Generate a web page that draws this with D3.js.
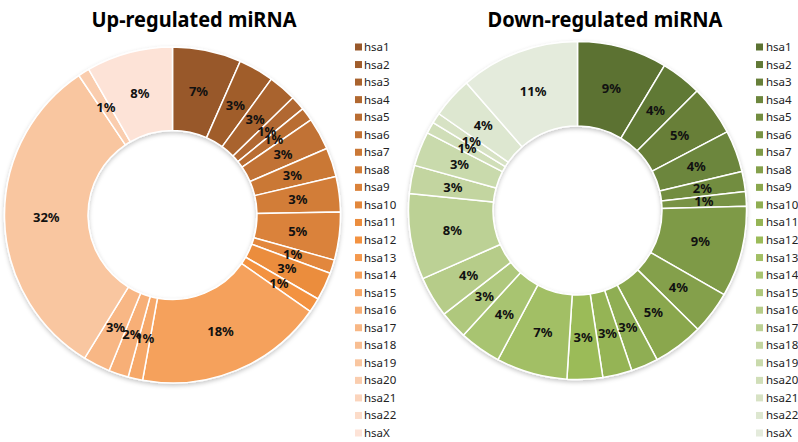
<!DOCTYPE html>
<html>
<head>
<meta charset="utf-8">
<script src="https://cdn.jsdelivr.net/npm/d3@7/dist/d3.min.js"></script>
<style>
  html, body { margin: 0; padding: 0; background: #fff; }
  svg { display: block; }
</style>
</head>
<body>
<svg id="chart" width="798" height="442"></svg>
<script>
// ---------- DATA ----------
const categories = ["hsa1","hsa2","hsa3","hsa4","hsa5","hsa6","hsa7","hsa8","hsa9","hsa10","hsa11","hsa12",
  "hsa13","hsa14","hsa15","hsa16","hsa17","hsa18","hsa19","hsa20","hsa21","hsa22","hsaX"];
// Up-regulated (percent shares; zero-share categories draw no slice)
const upValues = [6.6, 3.4, 2.7, 1.4, 1.3, 3.1, 2.8, 3.4, 4.6, 1.3, 2.7, 1.4,
  0, 18.1, 1.4, 1.9, 2.6, 0, 31.8, 1.1, 0, 0, 8.3];
// Down-regulated
const downValues = [8.6, 3.9, 4.8, 4.0, 1.9, 1.4, 8.7, 4.1, 4.8, 2.6, 2.8, 3.4,
  6.8, 4.0, 2.7, 3.9, 8.2, 2.7, 3.3, 1.1, 1.0, 3.9, 11.4];
const titles = ["Up-regulated miRNA", "Down-regulated miRNA"];

// ---------- STYLE / LAYOUT ----------
const svg = d3.select("#chart");
const defs = svg.append("defs");
const f = defs.append("filter").attr("id","shadow").attr("x","-10%").attr("y","-10%").attr("width","120%").attr("height","125%");
f.append("feDropShadow").attr("dx",0).attr("dy",2).attr("stdDeviation",2.2)
  .attr("flood-color","#000").attr("flood-opacity",0.22);

function ramp(c0, c1, c2) {
  const a = d3.interpolateRgb(c0, c1), b = d3.interpolateRgb(c1, c2);
  return i => i <= 11 ? a(i / 11) : b((i - 11) / 11);
}
const upColor = ramp("#98582a", "#f39240", "#fde3d7");
const downColor = ramp("#5b7232", "#9bbb59", "#e4ebdc");

const panels = [
  { values: upValues, color: upColor, cx: 172.5, cy: 215, rOut: 168, rIn: 84.5,
    titleX: 194, legendSwatchX: 355, legendTextX: 364 },
  { values: downValues, color: downColor, cx: 577.5, cy: 210.5, rOut: 169, rIn: 84.5,
    titleX: 605, legendSwatchX: 756, legendTextX: 766 }
];

const pie = d3.pie().sort(null).value(d => d.value);

panels.forEach((p, k) => {
  const data = categories.map((c, i) => ({ cat: c, value: p.values[i], idx: i }));
  const total = d3.sum(data, d => d.value);
  const arcs = pie(data).filter(a => a.data.value > 0);
  const arc = d3.arc().innerRadius(p.rIn).outerRadius(p.rOut);
  const labelArc = d3.arc().innerRadius((p.rIn + p.rOut) / 2).outerRadius((p.rIn + p.rOut) / 2);

  const g = svg.append("g").attr("transform", `translate(${p.cx},${p.cy})`);
  const ring = g.append("g").attr("filter", "url(#shadow)");
  ring.selectAll("path").data(arcs).join("path")
    .attr("d", arc)
    .attr("fill", d => p.color(d.data.idx))
    .attr("stroke", "#fff").attr("stroke-width", 1.5).attr("stroke-linejoin", "round");

  g.selectAll("text.lbl").data(arcs).join("text")
    .attr("class", "lbl")
    .attr("transform", d => `translate(${labelArc.centroid(d)})`)
    .attr("text-anchor", "middle").attr("dy", "0.36em")
    .attr("font-family", "'Noto Sans', sans-serif").attr("font-weight", "bold")
    .attr("font-size", 13).attr("fill", "#111")
    .text(d => Math.round(d.data.value / total * 100) + "%");

  // title
  const t = svg.append("text").attr("x", p.titleX).attr("y", 27)
    .attr("text-anchor", "middle")
    .attr("font-family", "'Noto Sans', sans-serif").attr("font-weight", "bold")
    .attr("font-size", 22).attr("fill", "#000")
    .text(titles[k]);
  const tl = k === 0 ? 205 : 235;
  t.attr("textLength", tl).attr("lengthAdjust", "spacingAndGlyphs");

  // legend
  const ly = d3.scalePoint().domain(categories).range([47, 433]);
  const lg = svg.append("g");
  const items = lg.selectAll("g").data(data).join("g")
    .attr("transform", d => `translate(0,${ly(d.cat)})`);
  items.append("rect").attr("x", p.legendSwatchX).attr("y", -3.5).attr("width", 7).attr("height", 7)
    .attr("fill", d => p.color(d.idx));
  items.append("text").attr("x", p.legendTextX).attr("y", 0).attr("dy", "0.35em")
    .attr("font-family", "'Noto Sans', sans-serif").attr("font-size", 11.5).attr("fill", "#222")
    .text(d => d.cat);
});
</script>
</body>
</html>
